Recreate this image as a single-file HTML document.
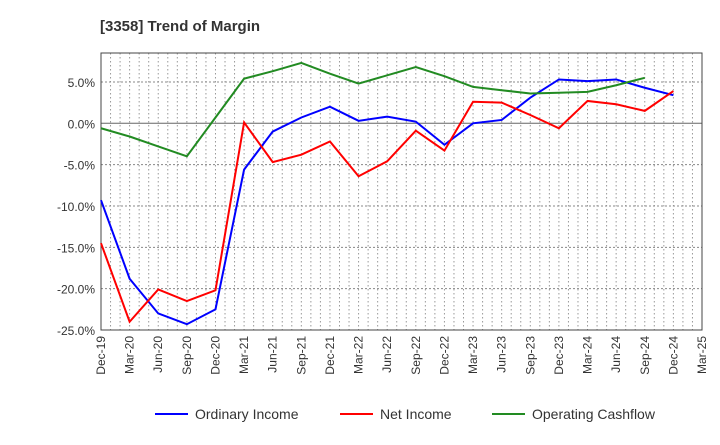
<!DOCTYPE html>
<html><head><meta charset="utf-8"><style>
body{margin:0;background:#fff;font-family:"Liberation Sans",sans-serif}
</style></head><body>
<svg id="c" width="720" height="440" xmlns="http://www.w3.org/2000/svg">
<text x="100" y="31" font-size="15" font-weight="bold" fill="#333">[3358]  Trend of Margin</text>
<g id="grid"></g><g id="axes"></g><g id="series"></g>
<g>
<line x1="155" y1="414" x2="188" y2="414" stroke="#0000ff" stroke-width="2"/>
<text x="195" y="419" font-size="14" fill="#333">Ordinary Income</text>
<line x1="340" y1="414" x2="373" y2="414" stroke="#ff0000" stroke-width="2"/>
<text x="380" y="419" font-size="14" fill="#333">Net Income</text>
<line x1="492" y1="414" x2="525" y2="414" stroke="#228b22" stroke-width="2"/>
<text x="532" y="419" font-size="14" fill="#333">Operating Cashflow</text>
</g>
</svg>
<script>
const categories=["Dec-19","Mar-20","Jun-20","Sep-20","Dec-20","Mar-21","Jun-21","Sep-21","Dec-21","Mar-22","Jun-22","Sep-22","Dec-22","Mar-23","Jun-23","Sep-23","Dec-23","Mar-24","Jun-24","Sep-24","Dec-24","Mar-25"];
const yTicks=[5,0,-5,-10,-15,-20,-25];
const yTickLabels=["5.0%","0.0%","-5.0%","-10.0%","-15.0%","-20.0%","-25.0%"];
const ordinaryIncome=[-9.3,-18.8,-23,-24.3,-22.5,-5.6,-1,0.7,2,0.3,0.8,0.2,-2.6,0,0.4,3.1,5.3,5.1,5.3,4.3,3.4];
const netIncome=[-14.5,-24,-20.1,-21.5,-20.2,0.1,-4.7,-3.8,-2.2,-6.4,-4.6,-0.9,-3.3,2.6,2.5,1.0,-0.6,2.7,2.3,1.5,3.9];
const operatingCashflow=[-0.6,-1.6,-2.8,-4,0.7,5.4,6.3,7.3,6,4.8,5.8,6.8,5.7,4.4,4.0,3.6,3.7,3.8,4.6,5.5];
const L=101,R=702,T=53,B=330,yMin=-25,yMax=8.5;
const NS="http://www.w3.org/2000/svg";
const x=i=>L+(R-L)*i/(categories.length-1);
const y=v=>B-(v-yMin)/(yMax-yMin)*(B-T);
function mk(tag,attrs,parent){const e=document.createElementNS(NS,tag);for(const k in attrs)e.setAttribute(k,attrs[k]);parent.appendChild(e);return e;}
const grid=document.getElementById('grid'),axes=document.getElementById('axes'),ser=document.getElementById('series');
for(let m=1;m<(categories.length-1)*3;m++){const gx=L+(R-L)*m/((categories.length-1)*3);
const g=mk('line',{x1:gx,x2:gx,y1:T,y2:B,stroke:'#999','stroke-width':1,'stroke-dasharray':'1.5,2.5'},grid);

}
yTicks.forEach((v,i)=>{const gy=y(v);
const g=mk('line',{x1:L,x2:R,y1:gy,y2:gy,stroke:v===0?'#666':'#888','stroke-width':1,'stroke-dasharray':v===0?'':'2,2'},grid);


const t=mk('text',{x:L-6,y:gy+5,'text-anchor':'end','font-size':12,fill:'#333'},axes);t.textContent=yTickLabels[i];

});
categories.forEach((c,i)=>{const t=mk('text',{transform:`translate(${x(i)+4},${B+6}) rotate(-90)`,'text-anchor':'end','font-size':12,fill:'#333'},axes);t.textContent=c;

});
const fr=mk('rect',{x:L,y:T,width:R-L,height:B-T,fill:'none',stroke:'#444','stroke-width':1},axes);


[[ordinaryIncome,'#0000ff','ordinary-income-line'],[netIncome,'#ff0000','net-income-line'],[operatingCashflow,'#228b22','operating-cashflow-line']].forEach(([d,col,n])=>{
const p=mk('polyline',{points:d.map((v,i)=>x(i)+','+y(v)).join(' '),fill:'none',stroke:col,'stroke-width':2},ser);

});
</script>
</body></html>
